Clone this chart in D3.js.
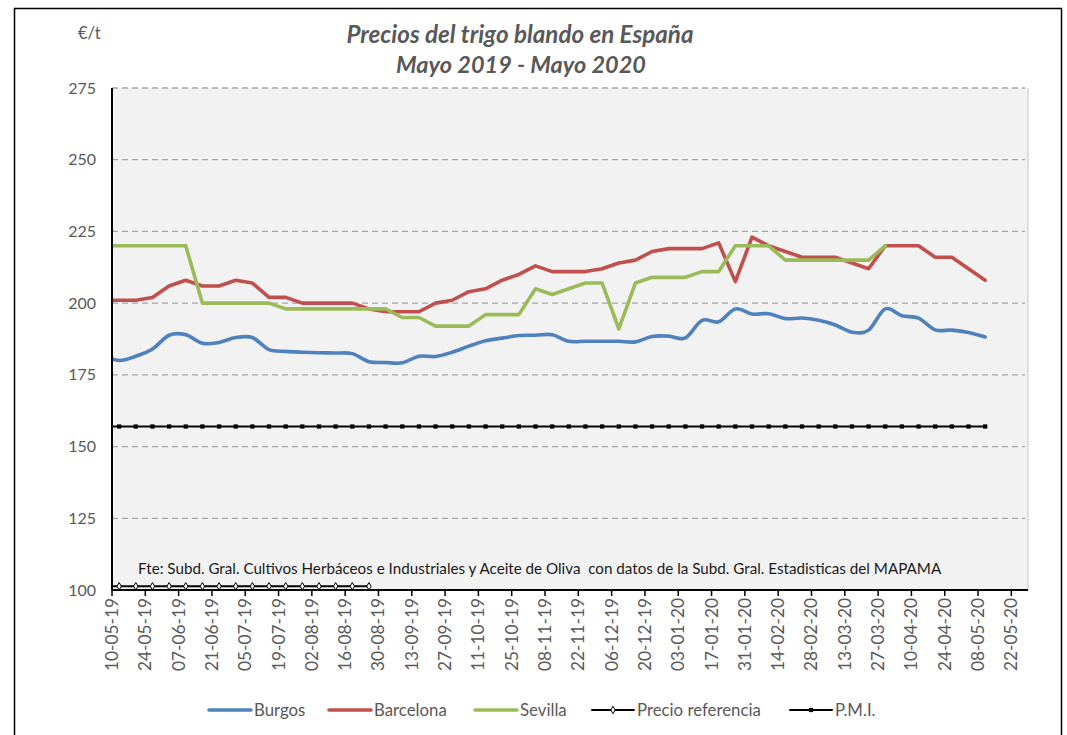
<!DOCTYPE html>
<meta charset="utf-8">
<style>
  body { margin: 0; background: #fff; }
  svg { font-family: Lato, "Liberation Sans", sans-serif; }
</style>
<svg width="1067" height="735"></svg>
<script src="https://d3js.org/d3.v7.min.js"></script>
<script>

// semanas (lunes) del 06-05-19 al 11-05-20
var fechas = ["06-05-19","13-05-19","20-05-19","27-05-19","03-06-19","10-06-19","17-06-19","24-06-19",
  "01-07-19","08-07-19","15-07-19","22-07-19","29-07-19","05-08-19","12-08-19","19-08-19","26-08-19",
  "02-09-19","09-09-19","16-09-19","23-09-19","30-09-19","07-10-19","14-10-19","21-10-19","28-10-19",
  "04-11-19","11-11-19","18-11-19","25-11-19","02-12-19","09-12-19","16-12-19","23-12-19","30-12-19",
  "06-01-20","13-01-20","20-01-20","27-01-20","03-02-20","10-02-20","17-02-20","24-02-20","02-03-20",
  "09-03-20","16-03-20","23-03-20","30-03-20","06-04-20","13-04-20","20-04-20","27-04-20","04-05-20","11-05-20"];

var burgos = [182, 180, 181.5, 184, 188.8, 189, 186, 186.3, 188, 188, 183.8, 183.2, 182.9, 182.7, 182.6,
  182.4, 179.6, 179.3, 179.2, 181.5, 181.4, 182.9, 185, 186.9, 187.8, 188.7, 188.8, 189, 186.7, 186.7, 186.7,
  186.7, 186.5, 188.4, 188.5, 187.9, 194, 193.5, 198, 196.2, 196.3, 194.6, 194.8, 194, 192.4, 189.9,
  190.6, 198, 195.6, 194.8, 190.7, 190.6, 189.8, 188.2];
var barcelona = [201, 201, 201, 202, 206, 208, 206, 206, 208, 207, 202, 202, 200, 200, 200, 200, 198,
  197, 197, 197, 200, 201, 204, 205, 208, 210, 213, 211, 211, 211, 212, 214, 215, 218, 219, 219, 219,
  221, 207.5, 223, 220, 218, 216, 216, 216, 214, 212, 220, 220, 220, 216, 216, 212, 208];
var sevilla = [220, 220, 220, 220, 220, 220, 200, 200, 200, 200, 200, 198, 198, 198, 198, 198, 198, 198,
  195, 195, 192, 192, 192, 196, 196, 196, 205, 203, 205, 207, 207, 191, 207, 209, 209, 209, 211, 211,
  220, 220, 220, 215, 215, 215, 215, 215, 215, 220];
var precioReferencia = [101.31, 101.31, 101.31, 101.31, 101.31, 101.31, 101.31, 101.31, 101.31,
  101.31, 101.31, 101.31, 101.31, 101.31, 101.31, 101.31, 101.31];
var pmi = [157, 157, 157, 157, 157, 157, 157, 157, 157, 157, 157, 157, 157, 157, 157, 157, 157, 157,
  157, 157, 157, 157, 157, 157, 157, 157, 157, 157, 157, 157, 157, 157, 157, 157, 157, 157, 157, 157,
  157, 157, 157, 157, 157, 157, 157, 157, 157, 157, 157, 157, 157, 157, 157, 157];

var etiquetasX = ["10-05-19","24-05-19","07-06-19","21-06-19","05-07-19","19-07-19","02-08-19","16-08-19",
  "30-08-19","13-09-19","27-09-19","11-10-19","25-10-19","08-11-19","22-11-19","06-12-19","20-12-19",
  "03-01-20","17-01-20","31-01-20","14-02-20","28-02-20","13-03-20","27-03-20","10-04-20","24-04-20",
  "08-05-20","22-05-20"];
var ticksY = [100, 125, 150, 175, 200, 225, 250, 275];

var series = [
  {nombre: "Burgos", valores: burgos, color: "#4f81bd", suave: true},
  {nombre: "Barcelona", valores: barcelona, color: "#c0504d"},
  {nombre: "Sevilla", valores: sevilla, color: "#9bbb59"},
  {nombre: "Precio referencia", valores: precioReferencia, color: "#000", marca: "diamante"},
  {nombre: "P.M.I.", valores: pmi, color: "#000", marca: "cuadrado"}
];

var parse = d3.timeParse("%d-%m-%y");
var gris = "#595959";

var svg = d3.select("svg"),
    pIzq = 112, pDer = 1028, pSup = 88, pInf = 590;

var x = d3.scaleTime()
    .domain([parse("10-05-19"), parse("29-05-20")])
    .range([pIzq, pDer]);

var y = d3.scaleLinear()
    .domain([100, 275])
    .range([pInf, pSup]);

function marcador(m) {
  return m == "diamante"
    ? d3.symbol().type(d3.symbolDiamond).size(16)()
    : d3.symbol().type(d3.symbolSquare).size(18)();
}

// marco del gráfico
svg.append("rect")
    .attr("x", 14.5).attr("y", 8.5)
    .attr("width", 1047).attr("height", 760)
    .attr("fill", "#fff")
    .attr("stroke", "#000")
    .attr("stroke-width", 1.5);

svg.append("rect")
    .attr("x", pIzq).attr("y", pSup)
    .attr("width", pDer - pIzq).attr("height", pInf - pSup)
    .attr("fill", "#f2f2f2");

svg.append("line")
    .attr("x1", pDer).attr("x2", pDer)
    .attr("y1", pSup).attr("y2", pInf)
    .attr("stroke", "#c8c8c8");

svg.append("defs").append("clipPath")
    .attr("id", "plot")
  .append("rect")
    .attr("x", pIzq).attr("y", pSup - 5)
    .attr("width", pDer - pIzq).attr("height", pInf - pSup + 5);

// rejilla
svg.append("g")
  .selectAll("line")
  .data(ticksY.slice(1))
  .enter().append("line")
    .attr("x1", pIzq).attr("x2", pDer - 3)
    .attr("y1", y).attr("y2", y)
    .attr("stroke", "#a6a6a6")
    .attr("stroke-width", 1.3)
    .attr("stroke-dasharray", "6,4");

svg.append("g")
  .selectAll("text")
  .data(ticksY)
  .enter().append("text")
    .attr("x", 96)
    .attr("y", function(d) { return y(d) + 5.5; })
    .attr("text-anchor", "end")
    .attr("font-size", 16)
    .attr("fill", gris)
    .text(function(d) { return d; });

// eje x
var ejeX = svg.append("g");
ejeX.selectAll("line")
  .data(etiquetasX)
  .enter().append("line")
    .attr("x1", function(d) { return x(parse(d)); })
    .attr("x2", function(d) { return x(parse(d)); })
    .attr("y1", pInf).attr("y2", pInf + 6)
    .attr("stroke", "#000")
    .attr("stroke-width", 1.5);

ejeX.selectAll("text")
  .data(etiquetasX)
  .enter().append("text")
    .attr("transform", function(d) { return "translate(" + (x(parse(d)) + 6) + "," + (pInf + 8) + ")rotate(-90)"; })
    .attr("text-anchor", "end")
    .attr("font-size", 17.3)
    .attr("fill", gris)
    .text(function(d) { return d; });

svg.append("text")
    .attr("x", 138)
    .attr("y", 574)
    .attr("font-size", 15.2)
    .attr("fill", "#1a1a1a")
    .attr("xml:space", "preserve")
    .text("Fte: Subd. Gral. Cultivos Herbáceos e Industriales y Aceite de Oliva  con datos de la Subd. Gral. Estadisticas del MAPAMA");

// series
var capa = svg.append("g").attr("clip-path", "url(#plot)");

series.forEach(function(s) {
  var puntos = s.valores.map(function(v, i) { return {fecha: parse(fechas[i]), valor: v}; });
  var linea = d3.line()
      .x(function(d) { return x(d.fecha); })
      .y(function(d) { return y(d.valor); })
      .curve(s.suave ? d3.curveCardinal : d3.curveLinear);

  capa.append("path")
      .datum(puntos)
      .attr("d", linea)
      .attr("fill", "none")
      .attr("stroke", s.color)
      .attr("stroke-width", s.marca ? 2 : 3.6)
      .attr("stroke-linejoin", "round")
      .attr("stroke-linecap", "round");

  if (s.marca) {
    capa.selectAll(null)
      .data(puntos)
      .enter().append("path")
        .attr("transform", function(d) { return "translate(" + x(d.fecha) + "," + y(d.valor) + ")"; })
        .attr("d", marcador(s.marca))
        .attr("fill", s.marca == "diamante" ? "#fff" : "#000")
        .attr("stroke", "#000")
        .attr("stroke-width", s.marca == "diamante" ? 1 : 0);
  }
});

// ejes por encima
svg.append("line")
    .attr("x1", pIzq).attr("x2", pIzq)
    .attr("y1", pSup).attr("y2", pInf)
    .attr("stroke", "#000").attr("stroke-width", 2);
svg.append("line")
    .attr("x1", pIzq).attr("x2", pDer)
    .attr("y1", pInf).attr("y2", pInf)
    .attr("stroke", "#000").attr("stroke-width", 2);

// títulos
svg.append("text")
    .attr("x", 520).attr("y", 43)
    .attr("text-anchor", "middle")
    .attr("font-size", 24.2)
    .attr("font-weight", "bold")
    .attr("font-style", "italic")
    .attr("fill", gris)
    .text("Precios del trigo blando en España");
svg.append("text")
    .attr("x", 521).attr("y", 73)
    .attr("text-anchor", "middle")
    .attr("font-size", 23.5)
    .attr("font-weight", "bold")
    .attr("font-style", "italic")
    .attr("fill", gris)
    .text("Mayo 2019 - Mayo 2020");
svg.append("text")
    .attr("x", 78).attr("y", 39)
    .attr("font-size", 16.5)
    .attr("fill", gris)
    .text("€/t");

// leyenda
var posLeyenda = [209, 329, 475, 592, 790];
var leyenda = svg.append("g")
  .selectAll("g")
  .data(series)
  .enter().append("g")
    .attr("transform", function(d, i) { return "translate(" + posLeyenda[i] + ",710)"; });

leyenda.append("line")
    .attr("x2", 42)
    .attr("stroke", function(d) { return d.color; })
    .attr("stroke-width", function(d) { return d.marca ? 2 : 3.6; })
    .attr("stroke-linecap", "round");

leyenda.filter(function(d) { return d.marca; }).append("path")
    .attr("transform", "translate(21,0)")
    .attr("d", function(d) { return marcador(d.marca); })
    .attr("fill", function(d) { return d.marca == "diamante" ? "#fff" : "#000"; })
    .attr("stroke", "#000")
    .attr("stroke-width", function(d) { return d.marca == "diamante" ? 1 : 0; });

leyenda.append("text")
    .attr("x", 45)
    .attr("y", 6)
    .attr("font-size", 16.8)
    .attr("fill", gris)
    .text(function(d) { return d.nombre; });

</script>
